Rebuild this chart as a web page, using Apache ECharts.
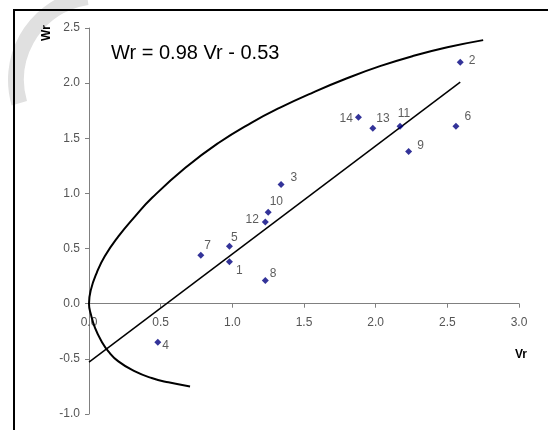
<!DOCTYPE html>
<html>
<head>
<meta charset="utf-8">
<script src="https://cdn.jsdelivr.net/npm/echarts@6/dist/echarts.min.js"></script>
<style>
  html, body { margin: 0; padding: 0; background: #fff; }
  #main { width: 548px; height: 430px; }
</style>
</head>
<body>
<div id="main"></div>
<script>
// sample numbers, Vr and Wr
var pointNames = ["1", "2", "3", "4", "5", "6", "7", "8", "9", "10", "11", "12", "13", "14"];
var vrValues = [0.98, 2.59, 1.34, 0.48, 0.98, 2.56, 0.78, 1.23, 2.23, 1.25, 2.17, 1.23, 1.98, 1.88];
var wrValues = [0.38, 2.19, 1.08, -0.35, 0.52, 1.61, 0.44, 0.21, 1.38, 0.83, 1.61, 0.74, 1.59, 1.69];

// regression line Wr = 0.98 Vr - 0.53, end points as drawn
var fitVr = [0, 2.59];
var fitWr = [-0.53, 2.01];

// the curved boundary (lower tip -> upper tip)
var curveVr = [0.705, 0.554, 0.437, 0.321, 0.205, 0.135, 0.088, 0.042, 0.014, 0.0, 0.014, 0.054, 0.11, 0.205, 0.32, 0.44, 0.67, 0.90, 1.135, 1.333, 1.565, 1.80, 2.03, 2.26, 2.50, 2.75];
var curveWr = [-0.75, -0.713, -0.674, -0.614, -0.523, -0.432, -0.342, -0.22, -0.10, 0.0, 0.13, 0.28, 0.43, 0.61, 0.79, 0.96, 1.23, 1.455, 1.643, 1.778, 1.917, 2.044, 2.154, 2.246, 2.325, 2.39];

var xTicks = [0, 0.5, 1.0, 1.5, 2.0, 2.5, 3.0];
var yTicks = [-1.0, -0.5, 0.0, 0.5, 1.0, 1.5, 2.0, 2.5];

// where each point label sits (placement only)
var labelPlace = {
  "1": ["right", [0, 9]],
  "2": ["right", [2, -2]],
  "3": ["right", [3, -7]],
  "4": ["right", [-2, 3]],
  "5": ["right", [-5, -9]],
  "6": ["right", [2, -9]],
  "7": ["right", [-3, -10]],
  "8": ["right", [-2, -7]],
  "9": ["right", [2, -6]],
  "10": ["right", [-5, -10]],
  "11": ["top", [4, 0]],
  "12": ["left", [0, -2]],
  "13": ["right", [-3, -10]],
  "14": ["left", [1, 1]]
};

var font = "'Liberation Sans', Arial, sans-serif";

var scatterData = pointNames.map(function (n, i) {
  var p = labelPlace[n];
  return {
    value: [vrValues[i], wrValues[i]],
    name: n,
    label: { position: p[0], offset: p[1] }
  };
});
var fitData = fitVr.map(function (v, i) { return [v, fitWr[i]]; });
var curveData = curveVr.map(function (v, i) { return [v, curveWr[i]]; });

// grid box; x axis is moved up so it runs along Wr = 0
var gridTop = 28, gridBottom = 16, chartH = 430;
var yMin = yTicks[0], yMax = yTicks[yTicks.length - 1];
var zeroShift = (chartH - gridTop - gridBottom) * (0 - yMin) / (yMax - yMin);

var chart = echarts.init(document.getElementById("main"));
chart.setOption({
  animation: false,
  grid: { left: 89, right: 29, top: gridTop, bottom: gridBottom, outerBoundsMode: "none" },
  xAxis: {
    type: "value",
    min: xTicks[0],
    max: xTicks[xTicks.length - 1],
    interval: 0.5,
    offset: -zeroShift,
    axisLine: { onZero: false, lineStyle: { color: "#808080", width: 1 } },
    axisTick: { show: true, length: 4, lineStyle: { color: "#808080" } },
    axisLabel: {
      margin: 13,
      color: "#555",
      fontSize: 12,
      fontFamily: font,
      formatter: function (v) { return v.toFixed(1); }
    },
    splitLine: { show: false }
  },
  yAxis: {
    type: "value",
    min: yMin,
    max: yMax,
    interval: 0.5,
    axisLine: { show: true, onZero: false, lineStyle: { color: "#808080", width: 1 } },
    axisTick: { show: true, length: 4, lineStyle: { color: "#808080" } },
    axisLabel: {
      margin: 9,
      color: "#555",
      fontSize: 12,
      fontFamily: font,
      formatter: function (v) { return v.toFixed(1); }
    },
    splitLine: { show: false }
  },
  graphic: [
    {
      type: "arc",
      z: -10,
      shape: { cx: 100, cy: 80, r: 84, startAngle: 2.86, endAngle: 4.56, clockwise: true },
      style: { stroke: "#e0e0e0", lineWidth: 16, fill: null }
    },
    {
      type: "rect",
      z: 100,
      shape: { x: 14, y: 10, width: 560, height: 440 },
      style: { stroke: "#000", lineWidth: 2, fill: null }
    },
    {
      type: "text",
      left: 111,
      top: 43,
      style: { text: "Wr = 0.98 Vr - 0.53", fontSize: 20, fontFamily: font, fill: "#000" }
    },
    {
      type: "text",
      x: 47,
      y: 33,
      rotation: Math.PI / 2,
      style: {
        text: "Wr", fontSize: 12, fontWeight: "bold", fontFamily: font, fill: "#000",
        align: "center", verticalAlign: "middle"
      }
    },
    {
      type: "text",
      x: 521,
      y: 355,
      style: {
        text: "Vr", fontSize: 12, fontWeight: "bold", fontFamily: font, fill: "#000",
        align: "center", verticalAlign: "middle"
      }
    }
  ],
  series: [
    {
      name: "boundary",
      type: "line",
      data: curveData,
      smooth: 0.5,
      showSymbol: false,
      lineStyle: { color: "#000", width: 2 },
      z: 2
    },
    {
      name: "fit",
      type: "line",
      data: fitData,
      showSymbol: false,
      lineStyle: { color: "#000", width: 1.5 },
      z: 2
    },
    {
      name: "samples",
      type: "scatter",
      data: scatterData,
      symbol: "diamond",
      symbolSize: 7,
      itemStyle: { color: "#000080" },
      label: {
        show: true,
        distance: 3,
        color: "#333",
        fontSize: 12,
        fontFamily: font,
        formatter: function (p) { return p.name; }
      },
      z: 3
    }
  ]
});
</script>
</body>
</html>
